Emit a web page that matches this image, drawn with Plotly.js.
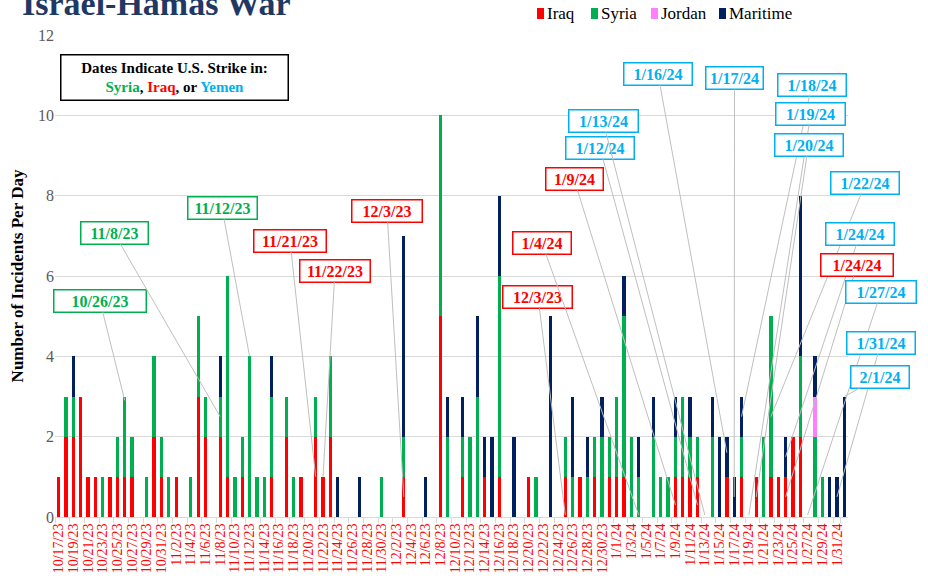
<!DOCTYPE html>
<html>
<head>
<meta charset="utf-8">
<script src="https://cdn.plot.ly/plotly-3.0.1.min.js"></script>
<style>html,body{margin:0;padding:0;background:#fff;}#chart{width:928px;height:585px;}</style>
</head>
<body>
<div id="chart"></div>
<script>
// ---------- DATA ----------
const dates = [
"10/17/23","10/18/23","10/19/23","10/20/23","10/21/23","10/22/23","10/23/23","10/24/23","10/25/23","10/26/23",
"10/27/23","10/28/23","10/29/23","10/30/23","10/31/23","11/1/23","11/2/23","11/3/23","11/4/23","11/5/23",
"11/6/23","11/7/23","11/8/23","11/9/23","11/10/23","11/11/23","11/12/23","11/13/23","11/14/23","11/15/23",
"11/16/23","11/17/23","11/18/23","11/19/23","11/20/23","11/21/23","11/22/23","11/23/23","11/24/23","11/25/23",
"11/26/23","11/27/23","11/28/23","11/29/23","11/30/23","12/1/23","12/2/23","12/3/23","12/4/23","12/5/23",
"12/6/23","12/7/23","12/8/23","12/9/23","12/10/23","12/11/23","12/12/23","12/13/23","12/14/23","12/15/23",
"12/16/23","12/17/23","12/18/23","12/19/23","12/20/23","12/21/23","12/22/23","12/23/23","12/24/23","12/25/23",
"12/26/23","12/27/23","12/28/23","12/29/23","12/30/23","12/31/23","1/1/24","1/2/24","1/3/24","1/4/24",
"1/5/24","1/6/24","1/7/24","1/8/24","1/9/24","1/10/24","1/11/24","1/12/24","1/13/24","1/14/24",
"1/15/24","1/16/24","1/17/24","1/18/24","1/19/24","1/20/24","1/21/24","1/22/24","1/23/24","1/24/24",
"1/25/24","1/26/24","1/27/24","1/28/24","1/29/24","1/30/24","1/31/24","2/1/24"];

const iraq = [
1,2,2,3,1,1,0,1,1,1,
1,0,0,2,1,0,1,0,0,3,
2,0,2,1,0,1,0,0,0,1,
0,2,0,1,0,2,1,2,0,0,
0,0,0,0,0,0,0,1,0,0,
0,0,5,0,0,1,0,0,1,0,
1,0,0,0,1,0,0,0,0,1,
0,1,0,1,0,1,1,1,0,0,
0,0,0,0,1,1,1,1,0,0,
0,1,0,1,0,1,0,1,1,1,
2,2,0,0,0,0,0,0];

const syria = [
0,1,1,0,0,0,1,0,1,2,
1,0,1,2,1,1,0,0,1,2,
1,0,1,5,1,1,4,1,1,2,
0,1,1,0,0,1,0,2,0,0,
0,0,0,0,1,0,0,1,0,0,
0,0,5,2,0,1,2,3,0,0,
5,0,0,0,0,1,0,0,0,1,
1,0,1,1,2,1,2,4,2,1,
0,2,1,1,1,2,1,1,0,2,
0,0,0,1,0,0,2,4,0,0,
0,2,0,2,1,0,0,0];

const jordan = [
0,0,0,0,0,0,0,0,0,0,
0,0,0,0,0,0,0,0,0,0,
0,0,0,0,0,0,0,0,0,0,
0,0,0,0,0,0,0,0,0,0,
0,0,0,0,0,0,0,0,0,0,
0,0,0,0,0,0,0,0,0,0,
0,0,0,0,0,0,0,0,0,0,
0,0,0,0,0,0,0,0,0,0,
0,0,0,0,0,0,0,0,0,0,
0,0,0,0,0,0,0,0,0,0,
0,0,0,1,0,0,0,0];

const maritime = [
0,0,1,0,0,0,0,0,0,0,
0,0,0,0,0,0,0,0,0,0,
0,0,1,0,0,0,0,0,0,1,
0,0,0,0,0,0,0,0,1,0,
0,1,0,0,0,0,0,5,0,0,
1,0,0,1,0,1,0,2,1,2,
2,0,2,0,0,0,0,5,0,0,
2,0,1,0,1,0,0,1,0,1,
0,1,0,0,1,0,1,0,0,1,
2,1,1,1,0,0,0,0,0,1,
0,4,0,1,0,1,1,3];

const seriesNames = ["Iraq","Syria","Jordan","Maritime"];

// U.S. strike callouts: label text, country struck, date the callout points at, value it points at
const strikeLabels  = ["10/26/23","11/8/23","11/12/23","11/21/23","11/22/23","12/3/23","12/3/23","1/4/24","1/9/24",
                       "1/12/24","1/13/24","1/16/24","1/17/24","1/18/24","1/19/24","1/20/24","1/22/24","1/24/24","1/24/24",
                       "1/27/24","1/31/24","2/1/24"];
const strikeCountry = ["Syria","Syria","Syria","Iraq","Iraq","Iraq","Iraq","Iraq","Iraq",
                       "Yemen","Yemen","Yemen","Yemen","Yemen","Yemen","Yemen","Yemen","Yemen","Iraq",
                       "Yemen","Yemen","Yemen"];
const strikePointDate = ["10/26/23","11/8/23","11/12/23","11/21/23","11/22/23","12/3/23","12/25/23","1/4/24","1/9/24",
                       "1/12/24","1/13/24","1/16/24","1/17/24","1/18/24","1/19/24","1/20/24","1/22/24","1/24/24","1/24/24",
                       "1/27/24","1/31/24","2/1/24"];
const strikePointValue = [2.9,2.5,4,1,1,0.5,0.05,0.05,0.3,
                       0.3,0.05,1.6,0.5,2.5,0.05,0.5,2.5,1.5,0.5,
                       0.05,0.5,3];

// ---------- STYLE / LAYOUT ----------
const colors = {Iraq:"#ff0000", Syria:"#00b050", Jordan:"#ff7fff", Maritime:"#002060", Yemen:"#00b0f0"};
const FONT = "Liberation Serif";
const PL = 55, PR = 848, PT = 35, PB = 517;   // plot area in pixels
const nCat = dates.length;
const pxX = i => PL + (i + 0.5) * (PR - PL) / nCat;
const pxY = v => PB - v * (PB - PT) / 12;
const paperX = px => (px - PL) / (PR - PL);
const paperY = py => (PB - py) / (PB - PT);

// callout box centres (pixels) and widths
const boxPos = [
  [100,301,94],[114,233,69],[222,208,71],[290,241,74],[335,271,72],[387,211,72],[538,297,71],[542,243,60],[574,179,59],
  [600,148,70],[603,121,71],[658,74,70],[734.5,78,59],[811.7,85,70],[810.7,114,71],[808.5,145,70],[865.5,183,70],[860,234,70],[857,265,74],
  [881,292,72],[881,343,70],[880,377,60]
];

const vals = [iraq, syria, jordan, maritime];
const traces = seriesNames.map((n, k) => ({
  type: "bar", name: n, x: dates, y: vals[k],
  marker: {color: colors[n], line: {width: 0}},
  hoverinfo: "x+y+name"
}));

const annotations = [];
strikeLabels.forEach((t, i) => {
  const idx = dates.indexOf(strikePointDate[i]);
  const c = colors[strikeCountry[i]];
  const [bx, by, bw] = boxPos[i];
  annotations.push({
    x: strikePointDate[i], y: strikePointValue[i], xref: "x", yref: "y",
    text: "<b>" + t + "</b>", showarrow: true, arrowhead: 0, arrowwidth: 1, arrowcolor: "#bfbfbf",
    ax: bx - pxX(idx), ay: by - pxY(strikePointValue[i]),
    font: {family: FONT, size: 16, color: c},
    bgcolor: "#ffffff", bordercolor: c, borderwidth: 1.5, borderpad: 1,
    width: bw - 5, height: 19, align: "center"
  });
});

// explanatory box
annotations.push({
  xref: "paper", yref: "paper", x: paperX(174), y: paperY(77.5), xanchor: "center", yanchor: "middle",
  showarrow: false, align: "center",
  text: "<b>Dates Indicate U.S. Strike in:</b><br><b><span style='color:#00b050'>Syria</span>, <span style='color:#ff0000'>Iraq</span>, or <span style='color:#00b0f0'>Yemen</span></b>",
  font: {family: FONT, size: 15, color: "#000000"},
  bgcolor: "#ffffff", bordercolor: "#000000", borderwidth: 1.5, borderpad: 4, width: 218, height: 36
});

// legend (custom, compact like the original)
const legPos = [[537,546],[591,600],[651,660],[719,728]];
const shapes = [];
seriesNames.forEach((n, k) => {
  const [sx, tx] = legPos[k];
  shapes.push({type: "rect", xref: "paper", yref: "paper",
    x0: paperX(sx), x1: paperX(sx + 7), y0: paperY(19), y1: paperY(8),
    fillcolor: colors[n], line: {width: 0}});
  annotations.push({xref: "paper", yref: "paper", x: paperX(tx), y: paperY(13.5), xanchor: "left", yanchor: "middle",
    showarrow: false, text: n, font: {family: FONT, size: 17, color: "#000000"}, borderpad: 0});
});

const layout = {
  width: 928, height: 585,
  margin: {l: PL, r: 928 - PR, t: PT, b: 585 - PB, pad: 0},
  paper_bgcolor: "#ffffff", plot_bgcolor: "#ffffff",
  barmode: "stack", bargap: 0.55,
  showlegend: false,
  title: {text: "<b>Israel-Hamas War</b>", font: {family: FONT, size: 34, color: "#1f3864"},
          xref: "container", yref: "container", x: 22/928, xanchor: "left", y: 1 - 15/585, yanchor: "bottom"},
  xaxis: {
    type: "category", categoryorder: "array", categoryarray: dates,
    range: [-0.5, nCat - 0.5],
    tickmode: "array", tickvals: dates.filter((d, i) => i % 2 === 0),
    tickangle: -90, tickfont: {family: FONT, size: 14, color: "#ff0000"},
    ticks: "outside", tickson: "boundaries", ticklen: 5, tickcolor: "#d9d9d9",
    showline: true, linecolor: "#d9d9d9", linewidth: 1, showgrid: false, zeroline: false
  },
  yaxis: {
    range: [0, 12], dtick: 2, tick0: 0,
    gridcolor: "#d9d9d9", gridwidth: 1, zeroline: false, showline: false,
    tickfont: {family: FONT, size: 16, color: "#595959"}, ticks: "", 
    title: {text: "<b>Number of Incidents Per Day</b>", font: {family: FONT, size: 17, color: "#000000"}, standoff: 10}
  },
  annotations: annotations,
  shapes: shapes
};

Plotly.newPlot("chart", traces, layout, {displayModeBar: false, staticPlot: true});
</script>
</body>
</html>
